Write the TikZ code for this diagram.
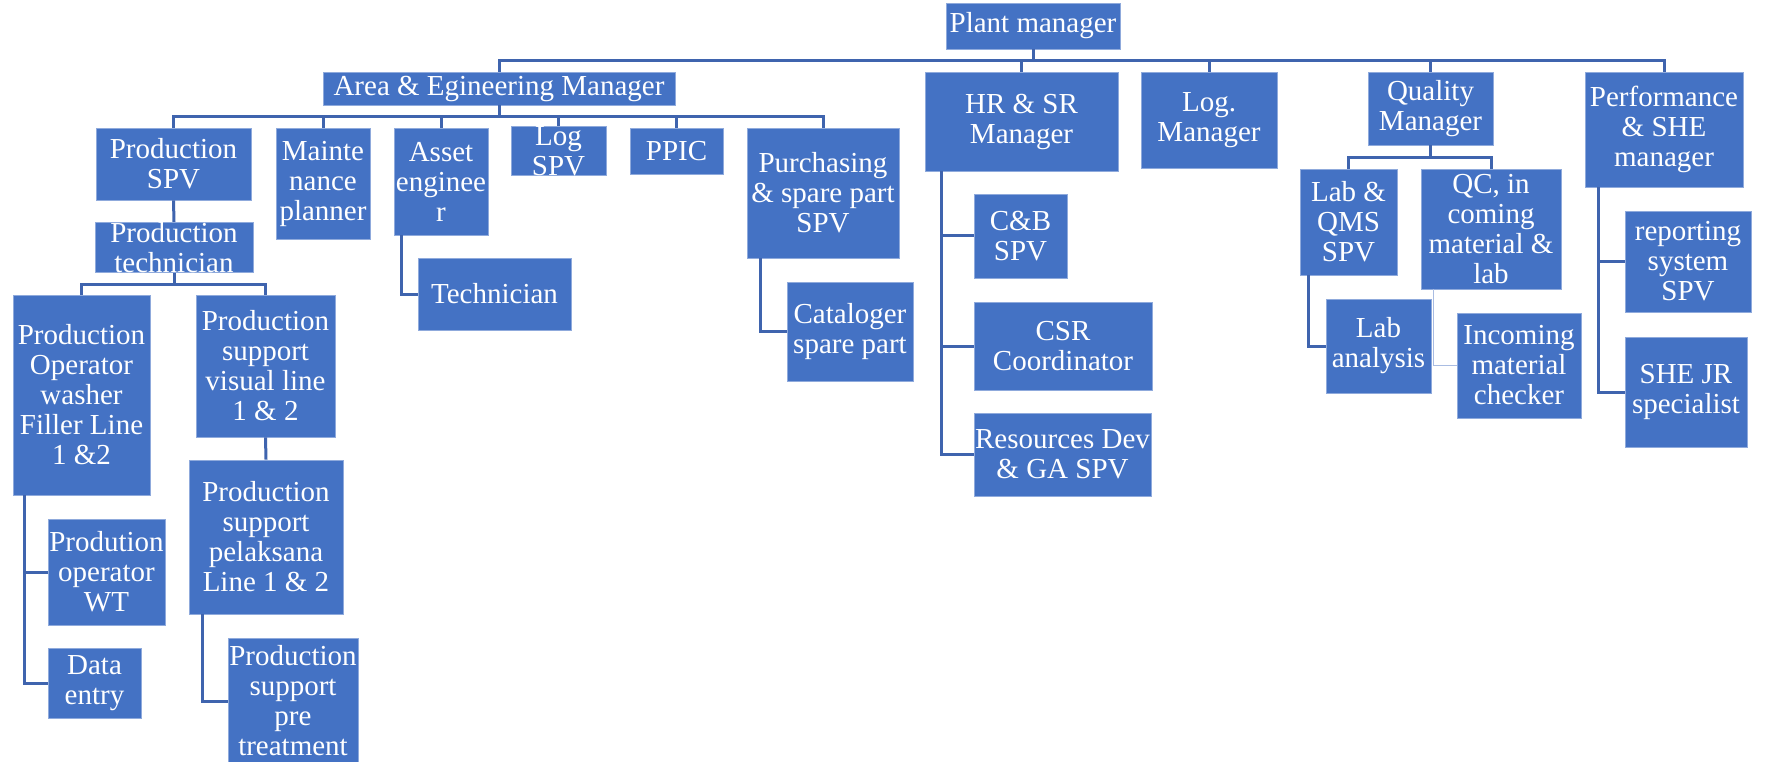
\documentclass[tikz,border=0pt]{standalone}
\usepackage{fontspec}
\setmainfont{Liberation Serif}
\definecolor{boxblue}{HTML}{4472C4}
\definecolor{rimblue}{HTML}{8FAADC}
\definecolor{lineblue}{HTML}{3F64AE}
\definecolor{paleblue}{HTML}{A9BCE2}

\begin{document}
\begin{tikzpicture}[x=1pt, y=-1pt,
	unit/.style={fill=boxblue, draw=rimblue, line width=0.8pt, text=white, inner sep=0pt,
		align=center, font=\fontsize{29}{30}\selectfont},
	link/.style={draw=lineblue, line width=3pt},
	thinlink/.style={draw=paleblue, line width=1.2pt}]
	\path[fill=white, use as bounding box] (0,0) rectangle (1767,762);
	% top level
	\node[unit, minimum width=174pt, minimum height=46pt] (plant) at (1033,26) {Plant manager};
	\node[unit, minimum width=352pt, minimum height=33pt] (area) at (499,88.5) {Area \& Egineering Manager};
	\node[unit, minimum width=193pt, minimum height=99pt] (hr) at (1021.5,121.5) {HR \& SR\\Manager};
	\node[unit, minimum width=136pt, minimum height=96pt] (logm) at (1209,120) {Log.\\Manager};
	\node[unit, minimum width=125pt, minimum height=73pt] (qm) at (1430.5,108.5) {Quality\\Manager};
	\node[unit, minimum width=158pt, minimum height=115pt] (perf) at (1664,129.5) {Performance\\\& SHE\\manager};
	% area & engineering
	\node[unit, minimum width=155pt, minimum height=72pt] (prodspv) at (173.5,164) {Production\\SPV};
	\node[unit, minimum width=94pt, minimum height=111pt] (maint) at (323,183.5) {Mainte\\nance\\planner};
	\node[unit, minimum width=94pt, minimum height=107pt] (asset) at (441,181.5) {Asset\\enginee\\r};
	\node[unit, minimum width=95pt, minimum height=46pt] (logspv) at (558.5,151) {Log\\SPV};
	\node[unit, minimum width=93pt, minimum height=46pt] (ppic) at (676.5,151) {PPIC};
	\node[unit, minimum width=152pt, minimum height=130pt] (purch) at (823,193) {Purchasing\\\& spare part\\SPV};
	\node[unit, minimum width=158pt, minimum height=49pt] (prodtech) at (174,247.5) {Production\\technician};
	\node[unit, minimum width=137pt, minimum height=200pt] (opwash) at (81.5,395) {Production\\Operator\\washer\\Filler Line\\1 \&2};
	\node[unit, minimum width=139pt, minimum height=142pt] (psvisual) at (265.5,366) {Production\\support\\visual line\\1 \& 2};
	\node[unit, minimum width=154pt, minimum height=154pt] (pspelak) at (266,537) {Production\\support\\pelaksana\\Line 1 \& 2};
	\node[unit, minimum width=130pt, minimum height=126pt] (pspre) at (293,701) {Production\\support\\pre\\treatment};
	\node[unit, minimum width=117pt, minimum height=106pt] (opwt) at (106.5,572) {Prodution\\operator\\WT};
	\node[unit, minimum width=93pt, minimum height=70pt] (dataentry) at (94.5,683) {Data\\entry};
	\node[unit, minimum width=153pt, minimum height=72pt] (tech) at (494.5,294) {Technician};
	\node[unit, minimum width=126pt, minimum height=99pt] (catalog) at (850,331.5) {Cataloger\\spare part};
	% hr & sr
	\node[unit, minimum width=93pt, minimum height=84pt] (cb) at (1020.5,236) {C\&B\\SPV};
	\node[unit, minimum width=178pt, minimum height=88pt] (csr) at (1063,346) {CSR\\Coordinator};
	\node[unit, minimum width=177pt, minimum height=83pt] (resdev) at (1062.5,454.5) {Resources Dev\\\& GA SPV};
	% quality
	\node[unit, minimum width=97pt, minimum height=106pt] (labqms) at (1348.5,222) {Lab \&\\QMS\\SPV};
	\node[unit, minimum width=140pt, minimum height=120pt] (qc) at (1491,229) {QC, in\\coming\\material \&\\lab};
	\node[unit, minimum width=105pt, minimum height=94pt] (labana) at (1378.5,346) {Lab\\analysis};
	\node[unit, minimum width=124pt, minimum height=105pt] (incoming) at (1519,365.5) {Incoming\\material\\checker};
	% performance
	\node[unit, minimum width=126pt, minimum height=101pt] (reporting) at (1688,261.5) {reporting\\system\\SPV};
	\node[unit, minimum width=122pt, minimum height=110pt] (shejr) at (1686,392) {SHE JR\\specialist};

	% links
	\draw[link] (plant.south) -- ++(0,11);
	\foreach \n in {area,hr,logm,qm,perf}
		\draw[link] (plant.south) ++(0,11) -| (\n.north);
	\draw[link] (area.south) -- ++(0,11);
	\foreach \n in {prodspv,maint,asset,logspv,ppic,purch}
		\draw[link] (area.south) ++(0,11) -| (\n.north);
	\draw[link] (prodspv.south) -- (prodtech.north);
	\draw[link] (prodtech.south) -- ++(0,11);
	\foreach \n in {opwash,psvisual}
		\draw[link] (prodtech.south) ++(0,11) -| (\n.north);
	\draw[link] (psvisual.south) -- (pspelak.north);
	\draw[link] ([xshift=14pt]pspelak.south west) |- (pspre.west);
	\foreach \n in {opwt,dataentry}
		\draw[link] ([xshift=12pt]opwash.south west) |- (\n.west);
	\draw[link] ([xshift=8pt]asset.south west) |- (tech.west);
	\draw[link] ([xshift=14pt]purch.south west) |- (catalog.west);
	\foreach \n in {cb,csr,resdev}
		\draw[link] ([xshift=17pt]hr.south west) |- (\n.west);
	\draw[link] (qm.south) -- ++(0,12);
	\foreach \n in {labqms,qc}
		\draw[link] (qm.south) ++(0,12) -| (\n.north);
	\draw[link] ([xshift=9pt]labqms.south west) |- (labana.west);
	\draw[thinlink] ([xshift=13pt]qc.south west) |- (incoming.west);
	\foreach \n in {reporting,shejr}
		\draw[link] ([xshift=14pt]perf.south west) |- (\n.west);
\end{tikzpicture}
\end{document}
